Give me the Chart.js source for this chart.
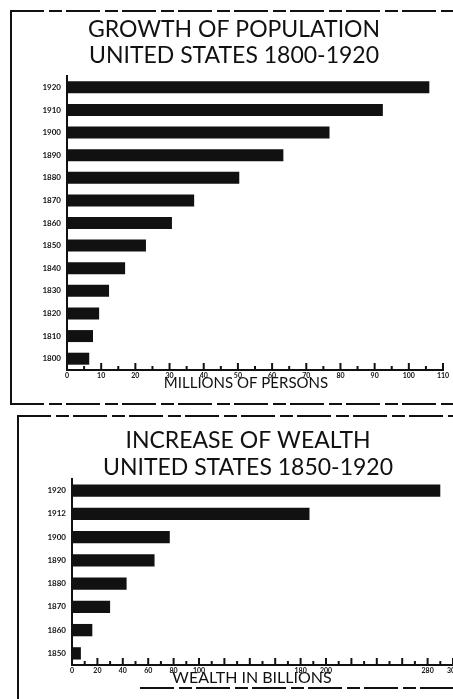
<!DOCTYPE html>
<html>
<head>
<meta charset="utf-8">
<script src="https://cdn.jsdelivr.net/npm/chart.js@4/dist/chart.umd.min.js"></script>
<style>
  body { margin: 0; background: #fff; width: 453px; height: 699px; overflow: hidden; position: relative; }
  canvas { position: absolute; }
  .vline { position: absolute; width: 2px; background: #111; }
  .dash { position: absolute; height: 2px;
    background: repeating-linear-gradient(90deg, #111 0 34px, transparent 34px 39px, #111 39px 52px, transparent 52px 56px); }
</style>
</head>
<body>
<div class="vline" style="left:10px; top:11px; height:394px"></div>
<div class="dash" style="left:10px; top:10px; width:443px"></div>
<div class="dash" style="left:10px; top:403px; width:443px"></div>
<div class="vline" style="left:17px; top:416px; height:283px"></div>
<div class="dash" style="left:17px; top:415px; width:436px"></div>
<div class="dash" style="left:140px; top:687px; width:313px"></div>

<canvas id="pop" width="470" height="410" style="left:0; top:0"></canvas>
<canvas id="wealth" width="480" height="289" style="left:0; top:410px"></canvas>

<script>
// growth of population, millions of persons
const popYears = ['1920', '1910', '1900', '1890', '1880', '1870', '1860', '1850', '1840', '1830', '1820', '1810', '1800'];
const popMillions = [106, 92.4, 76.8, 63.3, 50.4, 37.2, 30.7, 23.1, 17, 12.3, 9.4, 7.6, 6.5];
const popTickLabels = [0, 10, 20, 30, 40, 50, 60, 70, 80, 90, 100, 110];

// increase of wealth, billions of dollars
const wealthYears = ['1920', '1912', '1900', '1890', '1880', '1870', '1860', '1850'];
const wealthBillions = [290, 187, 77, 65, 43, 30, 16, 7];
const wealthTickLabels = [0, 20, 40, 60, 80, 100, 180, 200, 280, 300];

const INK = '#111';
const FONT = 'Lato, "DejaVu Sans", sans-serif';

// titles and axis captions drawn at fixed spots on the canvas
const captions = {
  id: 'captions',
  afterDraw(chart, args, opts) {
    const ctx = chart.ctx;
    ctx.save();
    ctx.fillStyle = INK;
    ctx.textAlign = 'center';
    ctx.textBaseline = 'alphabetic';
    for (const c of opts.items) {
      ctx.font = c.size + 'px ' + FONT;
      ctx.fillText(c.text, c.x, c.y);
    }
    ctx.restore();
  }
};

// little tick marks standing up from the x axis
const tickMarks = {
  id: 'tickMarks',
  afterDatasetsDraw(chart, args, opts) {
    const x = chart.scales.x, ctx = chart.ctx, y0 = chart.chartArea.bottom;
    ctx.save();
    ctx.strokeStyle = INK;
    ctx.lineWidth = 2;
    x.ticks.forEach(t => {
      const px = x.getPixelForValue(t.value);
      const len = t.value % opts.major === 0 ? 7 : 4;
      ctx.beginPath();
      ctx.moveTo(px, y0 + 1);
      ctx.lineTo(px, y0 - len);
      ctx.stroke();
    });
    ctx.restore();
  }
};

function makeChart(id, labels, values, cfg) {
  return new Chart(document.getElementById(id), {
    type: 'bar',
    data: {
      labels: labels,
      datasets: [{ data: values, backgroundColor: INK, barPercentage: cfg.barPct, categoryPercentage: 1 }]
    },
    options: {
      indexAxis: 'y',
      responsive: false,
      animation: false,
      layout: { padding: cfg.padding },
      plugins: {
        legend: { display: false },
        tooltip: { enabled: false },
        captions: { items: cfg.captions },
        tickMarks: { major: cfg.major }
      },
      scales: {
        y: {
          grid: { display: false, drawTicks: false },
          border: { display: true, color: INK, width: 2 },
          ticks: { color: INK, font: { family: FONT, size: 8, weight: 'bold' }, padding: 6 },
          afterFit: s => { s.width = cfg.yWidth; }
        },
        x: {
          min: 0,
          max: cfg.max,
          grid: { display: false, drawTicks: false, tickLength: 0 },
          border: { display: true, color: INK, width: 2 },
          ticks: {
            stepSize: cfg.step,
            autoSkip: false,
            maxRotation: 0,
            padding: 2,
            color: INK,
            font: { family: FONT, size: 7, weight: 'bold' },
            callback: v => cfg.tickLabels.includes(v) ? String(v) : ''
          },
          afterFit: s => { s.height = cfg.xHeight; }
        }
      }
    },
    plugins: [captions, tickMarks]
  });
}

makeChart('pop', popYears, popMillions, {
  barPct: 0.53, max: 110, step: 5, major: 10, tickLabels: popTickLabels,
  yWidth: 67, xHeight: 30,
  padding: { top: 76, left: 0, right: 27, bottom: 10 },
  captions: [
    { text: 'GROWTH OF POPULATION', x: 234, y: 37, size: 23 },
    { text: 'UNITED STATES 1800-1920', x: 234, y: 63, size: 23 },
    { text: 'MILLIONS OF PERSONS', x: 246, y: 388, size: 15 }
  ]
});

makeChart('wealth', wealthYears, wealthBillions, {
  barPct: 0.53, max: 300, step: 10, major: 20, tickLabels: wealthTickLabels,
  yWidth: 72, xHeight: 25,
  padding: { top: 69, left: 0, right: 27, bottom: 9 },
  captions: [
    { text: 'INCREASE OF WEALTH', x: 248, y: 38, size: 23 },
    { text: 'UNITED STATES 1850-1920', x: 248, y: 65, size: 23 },
    { text: 'WEALTH IN BILLIONS', x: 252, y: 273, size: 16 }
  ]
});
</script>
</body>
</html>
